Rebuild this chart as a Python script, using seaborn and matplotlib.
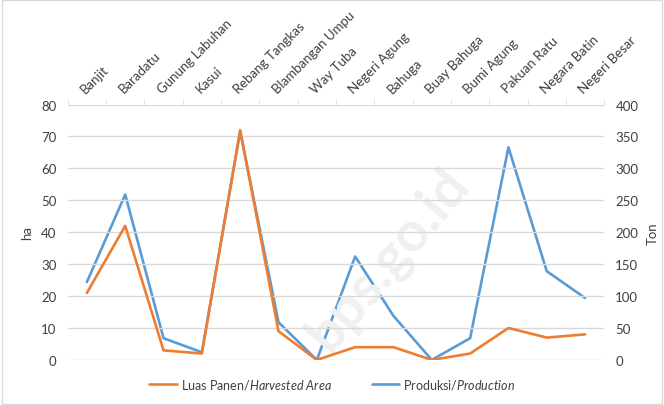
import numpy as np
import pandas as pd
import matplotlib.pyplot as plt
import seaborn as sns
from matplotlib.patches import Rectangle
from matplotlib.lines import Line2D

sns.set_style("white")
plt.rcParams['font.family'] = ['Lato', 'DejaVu Sans']
plt.rcParams['mathtext.fontset'] = 'custom'
plt.rcParams['mathtext.rm'] = 'Lato'
plt.rcParams['mathtext.it'] = 'Lato:italic'

# Data per kecamatan
kecamatan = ['Banjit', 'Baradatu', 'Gunung Labuhan', 'Kasui', 'Rebang Tangkas',
             'Blambangan Umpu', 'Way Tuba', 'Negeri Agung', 'Bahuga', 'Buay Bahuga',
             'Bumi Agung', 'Pakuan Ratu', 'Negara Batin', 'Negeri Besar']
luas_panen = [21, 42, 3, 2, 72, 9, 0, 4, 4, 0, 2, 10, 7, 8]
produksi = [122, 259, 34, 12, 358, 59, 0, 162, 69, 0, 34, 333, 139, 97]

left_ticks = [0, 10, 20, 30, 40, 50, 60, 70, 80]
right_ticks = [0, 50, 100, 150, 200, 250, 300, 350, 400]

orange = '#ED7D31'
blue = '#5B9BD5'
grid_color = '#D9D9D9'
text_color = '#404040'

df = pd.DataFrame({'kecamatan': kecamatan, 'luas': luas_panen, 'produksi': produksi})
df['pos'] = np.arange(len(df))

fig = plt.figure(figsize=(6.64, 4.06), dpi=100)
ax = fig.add_axes([0.102, 0.111, 0.808, 0.629])
ax2 = ax.twinx()

sns.lineplot(data=df, x='pos', y='luas', ax=ax, color=orange, linewidth=1.9, zorder=3)
sns.lineplot(data=df, x='pos', y='produksi', ax=ax2, color=blue, linewidth=1.9, zorder=3)

n = len(kecamatan)
for a in (ax, ax2):
    a.set_xlim(-0.5, n - 0.5)
    for s in a.spines.values():
        s.set_visible(False)

ax.set_ylim(0, 80)
ax2.set_ylim(0, 400)
ax.set_yticks(left_ticks)
ax2.set_yticks(right_ticks)
ax.yaxis.grid(True, color=grid_color, linewidth=1)
ax.tick_params(axis='y', length=0, labelsize=9.5, colors=text_color, pad=8)
ax2.tick_params(axis='y', length=0, labelsize=9.5, colors=text_color, pad=8)
ax.set_ylabel('ha', fontsize=9.5, color=text_color, labelpad=6)
ax2.set_ylabel('Ton', fontsize=9.5, color=text_color, labelpad=6)

# sumbu kategori di atas
ax.xaxis.tick_top()
ax.set_xticks(df['pos'])
ax.set_xticklabels(kecamatan, rotation=45, ha='left', va='bottom',
                   rotation_mode='anchor', fontsize=9.5, color=text_color)
ax.set_xticks(np.arange(-0.5, n, 1), minor=True)
ax.tick_params(axis='x', which='major', length=0, pad=7)
ax.tick_params(axis='x', which='minor', top=True, bottom=False, length=4,
               color=grid_color, direction='out')
ax.set_xlabel('')
ax2.set_xlabel('')
ax2.tick_params(axis='x', which='both', bottom=False, labelbottom=False)
ax.set_zorder(ax2.get_zorder() + 1)
ax.patch.set_visible(False)

# watermark
fig.text(0.585, 0.36, 'bps.go.id', fontsize=40, fontweight='bold', color='#F0F0F0',
         rotation=50, ha='center', va='center', zorder=0)

handles = [Line2D([], [], color=orange, linewidth=1.9),
           Line2D([], [], color=blue, linewidth=1.9)]
labels = [r'Luas Panen/$\it{Harvested\ Area}$', r'Produksi/$\it{Production}$']
fig.legend(handles, labels, loc='center', bbox_to_anchor=(0.5, 0.052), ncol=2,
           frameon=False, fontsize=9, handlelength=2.2, handletextpad=0.3,
           columnspacing=3.2, labelcolor=text_color)

fig.add_artist(Rectangle((0.003, 0.003), 0.994, 0.994, transform=fig.transFigure,
                         fill=False, edgecolor='#D9D9D9', linewidth=1))

fig.savefig('out.png', dpi=100)
